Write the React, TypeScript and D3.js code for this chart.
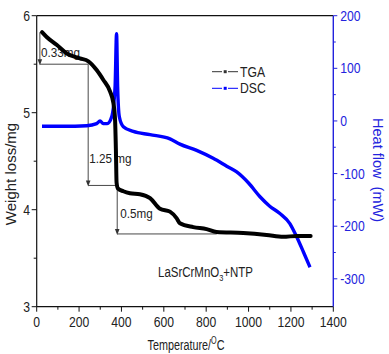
import React from "react";
import * as d3 from "d3";

// TGA: sample weight (mg) vs temperature (°C)
const tgaTemp = [25, 47, 94, 142, 204, 244, 283, 314, 346, 362, 370, 374, 377, 383, 409, 440, 487, 535, 582, 629, 661, 676, 739, 802, 849, 975, 1085, 1164, 1227, 1293];
const tgaWeight = [5.83, 5.78, 5.70, 5.61, 5.56, 5.53, 5.44, 5.34, 5.22, 5.10, 4.92, 4.60, 4.28, 4.22, 4.19, 4.17, 4.16, 4.12, 4.01, 3.98, 3.91, 3.86, 3.82, 3.80, 3.77, 3.76, 3.74, 3.72, 3.73, 3.73];

// DSC: heat flow (mW) vs temperature (°C)
const dscTemp = [25, 126, 236, 283, 299, 314, 333, 354, 370, 377, 382, 390, 409, 456, 535, 629, 676, 755, 833, 897, 944, 1000, 1054, 1100, 1148, 1195, 1227, 1260, 1290];
const dscHeat = [-10, -10, -9, -5, 0, -5, -5, 8, 65, 166, 65, 8, -11, -20, -26, -34, -44, -56, -71, -86, -97, -118, -144, -162, -176, -195, -220, -250, -278];

const xTicks = [0, 200, 400, 600, 800, 1000, 1200, 1400];
const xMinor = [100, 300, 500, 700, 900, 1100, 1300];
const leftTicks = [3, 4, 5, 6];
const leftMinor = [3.5, 4.5, 5.5];
const rightTicks = [-300, -200, -100, 0, 100, 200];
const rightMinor = [-250, -150, -50, 50, 150];

// Stepwise weight-loss annotation: levels (mg), temperatures where each step sits, labels
const stepLevels = [5.83, 5.5, 4.25, 3.75];
const stepTemps = [15, 243, 380, 850];
const stepLabels = ["0.33mg", "1.25 mg", "0.5mg"];

const W = 389;
const H = 354;
const L = 36.7;
const R = 333.3;
const TOP = 15.7;
const BOT = 306.7;

const BLUE = "#0000ff";
const AXBLUE = "#2323dd";
const FONT = "'Liberation Sans', Arial, sans-serif";

function Txt(props: {
  x: number; y: number; size: number; sx?: number; anchor?: string; fill?: string; children: React.ReactNode;
}) {
  const { x, y, size, sx = 0.87, anchor = "start", fill = "#222", children } = props;
  return (
    <text
      transform={`translate(${x},${y}) scale(${sx},1)`}
      fontSize={size}
      textAnchor={anchor}
      fill={fill}
      style={{ whiteSpace: "pre" }}
    >
      {children}
    </text>
  );
}

function Arrow({ x, y, color = "#333" }: { x: number; y: number; color?: string }) {
  return <path d={`M${x},${y} L${x - 2.3},${y - 6} L${x + 2.3},${y - 6} Z`} fill={color} />;
}

export default function App() {
  const x = d3.scaleLinear().domain([0, 1400]).range([L, R]);
  const yL = d3.scaleLinear().domain([3, 6]).range([BOT, TOP]);
  const yR = d3.scaleLinear().domain([-353, 200]).range([BOT, TOP]);

  const tgaPts = tgaTemp.map((t, i) => [t, tgaWeight[i]] as [number, number]);
  const dscPts = dscTemp.map((t, i) => [t, dscHeat[i]] as [number, number]);

  const tgaLine = d3
    .line<[number, number]>()
    .x((d) => x(d[0]))
    .y((d) => yL(d[1]))
    .curve(d3.curveMonotoneX);
  const dscLine = d3
    .line<[number, number]>()
    .x((d) => x(d[0]))
    .y((d) => yR(d[1]))
    .curve(d3.curveMonotoneX);

  const ann = "#333";
  // step geometry from levels/temps
  const sx0 = x(stepTemps[0]);
  const sx1 = x(stepTemps[1]);
  const sx2 = x(stepTemps[2]);
  const sx3 = x(stepTemps[3]);
  const sy0 = yL(stepLevels[0]);
  const sy1 = yL(stepLevels[1]);
  const sy2 = yL(stepLevels[2]);
  const sy3 = yL(stepLevels[3]);

  return (
    <svg
      width={W}
      height={H}
      style={{ position: "absolute", left: 0, top: 0, background: "#fff", fontFamily: FONT }}
    >
      <rect width={W} height={H} fill="#fff" />

      {/* frame: top line, left and bottom axes */}
      <line x1={L} x2={R} y1={TOP} y2={TOP} stroke="#111" strokeWidth={1.2} />
      <line x1={L} x2={L} y1={TOP} y2={BOT} stroke="#111" strokeWidth={1.2} />
      <line x1={L} x2={R} y1={BOT} y2={BOT} stroke="#111" strokeWidth={1.2} />
      <line x1={R} x2={R} y1={TOP} y2={BOT} stroke={AXBLUE} strokeWidth={1.4} />

      {/* bottom axis ticks */}
      {xTicks.map((t) => (
        <g key={`xt${t}`}>
          <line x1={x(t)} x2={x(t)} y1={BOT} y2={BOT + 5} stroke="#111" strokeWidth={1} />
          <Txt x={x(t)} y={326.7} size={14} anchor="middle">{String(t)}</Txt>
        </g>
      ))}
      {xMinor.map((t) => (
        <line key={`xm${t}`} x1={x(t)} x2={x(t)} y1={BOT} y2={BOT + 3} stroke="#111" strokeWidth={1} />
      ))}

      {/* left axis ticks */}
      {leftTicks.map((t) => (
        <g key={`lt${t}`}>
          <line x1={L - 5} x2={L} y1={yL(t)} y2={yL(t)} stroke="#111" strokeWidth={1} />
          <Txt x={30} y={yL(t) + 5} size={14} anchor="end">{String(t)}</Txt>
        </g>
      ))}
      {leftMinor.map((t) => (
        <line key={`lm${t}`} x1={L - 3} x2={L} y1={yL(t)} y2={yL(t)} stroke="#111" strokeWidth={1} />
      ))}

      {/* right axis ticks */}
      {rightTicks.map((t) => (
        <g key={`rt${t}`}>
          <line x1={R} x2={R + 4} y1={yR(t)} y2={yR(t)} stroke={AXBLUE} strokeWidth={1} />
          <Txt x={R + 7} y={yR(t) + 5} size={14} fill={AXBLUE}>{t < 0 ? `-${Math.abs(t)}` : String(t)}</Txt>
        </g>
      ))}
      {rightMinor.map((t) => (
        <line key={`rm${t}`} x1={R} x2={R + 2.5} y1={yR(t)} y2={yR(t)} stroke={AXBLUE} strokeWidth={1} />
      ))}

      {/* axis titles */}
      <text
        transform="translate(16,174) rotate(-90)"
        fontSize={15}
        textAnchor="middle"
        fill="#222"
      >
        Weight loss/mg
      </text>
      <text
        transform="translate(373,170) rotate(90)"
        fontSize={14.5}
        textAnchor="middle"
        fill={AXBLUE}
        style={{ whiteSpace: "pre" }}
      >
        Heat flow  (mW)
      </text>
      <text transform="translate(186,350) scale(0.72,1)" fontSize={15} textAnchor="middle" fill="#222">
        Temperature/<tspan fontSize={10} dy={-6}>O</tspan>
        <tspan dy={6}>C</tspan>
      </text>

      {/* weight-loss step annotation */}
      <g stroke={ann} strokeWidth={0.9} fill="none">
        <line x1={sx0} x2={sx0} y1={sy0} y2={sy1 - 4} />
        <line x1={sx0} x2={sx1} y1={sy1} y2={sy1} />
        <line x1={sx1} x2={sx1} y1={sy1} y2={sy2 - 4} />
        <line x1={sx1} x2={sx2} y1={sy2} y2={sy2} />
        <line x1={sx2} x2={sx2} y1={sy2} y2={sy3 - 4} />
        <line x1={sx2} x2={sx3} y1={sy3} y2={sy3} />
      </g>
      <Arrow x={sx0} y={sy1 + 1} color={ann} />
      <Arrow x={sx1} y={sy2 + 1} color={ann} />
      <Arrow x={sx2} y={sy3 + 1} color={ann} />
      <Txt x={sx0 + 1} y={57} size={13} sx={0.9}>{stepLabels[0]}</Txt>
      <Txt x={sx1 + 1} y={163} size={13} sx={0.9}>{stepLabels[1]}</Txt>
      <Txt x={sx2 + 3} y={218} size={13} sx={0.9}>{stepLabels[2]}</Txt>

      {/* curves */}
      <path d={dscLine(dscPts) || ""} fill="none" stroke={BLUE} strokeWidth={3.4} strokeLinejoin="round" />
      <path d={tgaLine(tgaPts) || ""} fill="none" stroke="#000" strokeWidth={4} strokeLinejoin="round" strokeLinecap="round" />

      {/* sample name */}
      <text transform="translate(158,276.5) scale(0.82,1)" fontSize={14} fill="#222">
        LaSrCrMnO<tspan fontSize={9} dy={4}>3</tspan>
        <tspan dy={-4}>+NTP</tspan>
      </text>

      {/* legend */}
      <g>
        <line x1={212} x2={222} y1={71.7} y2={71.7} stroke="#333" strokeWidth={1} />
        <line x1={228} x2={238} y1={71.7} y2={71.7} stroke="#333" strokeWidth={1} />
        <rect x={223.7} y={70.2} width={3} height={3} fill="#333" />
        <Txt x={240} y={76.7} size={14}>TGA</Txt>
        <line x1={212} x2={222} y1={88.3} y2={88.3} stroke={BLUE} strokeWidth={1} />
        <line x1={228} x2={238} y1={88.3} y2={88.3} stroke={BLUE} strokeWidth={1} />
        <rect x={223.7} y={86.8} width={3} height={3} fill={BLUE} />
        <Txt x={240} y={93.3} size={14}>DSC</Txt>
      </g>
    </svg>
  );
}
